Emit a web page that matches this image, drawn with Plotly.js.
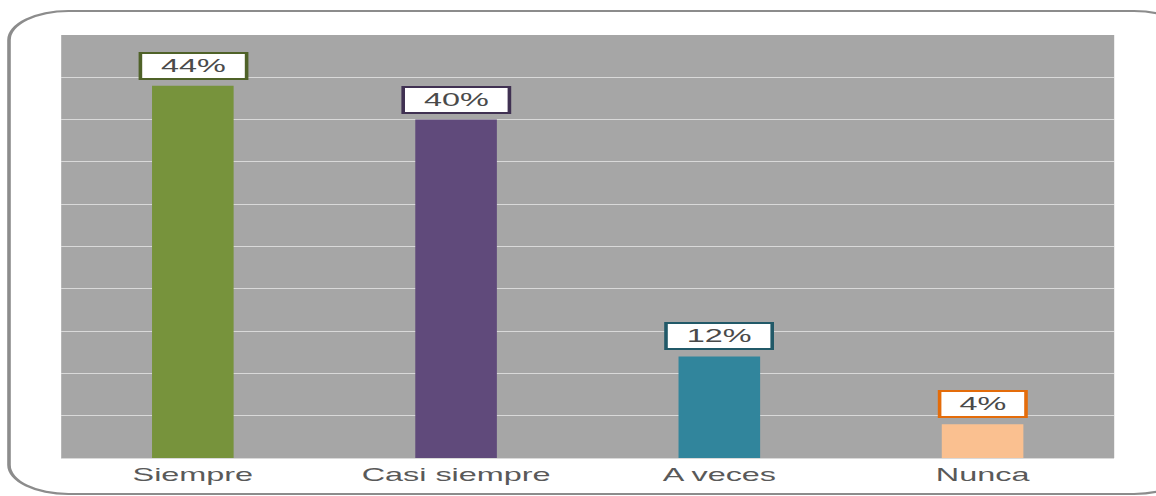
<!DOCTYPE html>
<html>
<head>
<meta charset="utf-8">
<script src="https://cdn.plot.ly/plotly-3.0.1.min.js"></script>
<style>
  html, body { margin:0; padding:0; background:#ffffff; overflow:hidden; width:1156px; height:496px; }
  #wrap { position:absolute; left:0; top:0; width:642.22px; height:496px; transform:scaleX(1.8); transform-origin:0 0; }
  #chart { position:absolute; left:0; top:0; width:642.22px; height:496px; }
  #frame { position:absolute; left:4.4px; top:10px; width:660px; height:485px; border:2px solid #8c8c8c; border-radius:34px / 30px; pointer-events:none; box-sizing:border-box; }
</style>
</head>
<body>
<div id="wrap">
  <div id="chart"></div>
  <div id="frame"></div>
</div>
<script>
const categories = ["Siempre", "Casi siempre", "A veces", "Nunca"];
const values = [44, 40, 12, 4];
const labels = ["44%", "40%", "12%", "4%"];
const barColors = ["#77933C", "#604A7B", "#31859C", "#FAC090"];
const labelBorderColors = ["#4F6228", "#403152", "#215968", "#E46C0A"];

const trace = {
  type: "bar",
  x: categories,
  y: values,
  marker: { color: barColors, line: { width: 0 } },
  hoverinfo: "none"
};

const annotations = categories.map((c, i) => ({
  x: c, y: values[i], xref: "x", yref: "y",
  text: labels[i], showarrow: false,
  yanchor: "bottom", yshift: 6,
  bgcolor: "#ffffff", bordercolor: labelBorderColors[i], borderwidth: 2, borderpad: 1,
  width: 11 * labels[i].length + 22, height: 22,
  font: { family: "Liberation Sans, Arial, sans-serif", size: 18, color: "#4a4a4a" }
}));

const layout = {
  width: 642.22, height: 496,
  margin: { l: 34.4, r: 23.3, t: 35, b: 38, pad: 0 },
  paper_bgcolor: "rgba(0,0,0,0)",
  plot_bgcolor: "#A6A6A6",
  bargap: 0.69,
  showlegend: false,
  font: { family: "Liberation Sans, Arial, sans-serif", size: 18, color: "#595959" },
  xaxis: {
    type: "category", showgrid: false, zeroline: false,
    showline: true, linecolor: "#D9D9D9", linewidth: 1,
    ticks: "", tickfont: { size: 18, color: "#595959" }
  },
  yaxis: {
    range: [0, 50], dtick: 5, showticklabels: false,
    showgrid: true, gridcolor: "#D9D9D9", gridwidth: 1,
    zeroline: false, showline: false, ticks: ""
  },
  annotations: annotations
};

Plotly.newPlot("chart", [trace], layout, { displayModeBar: false, staticPlot: true });
</script>
</body>
</html>
